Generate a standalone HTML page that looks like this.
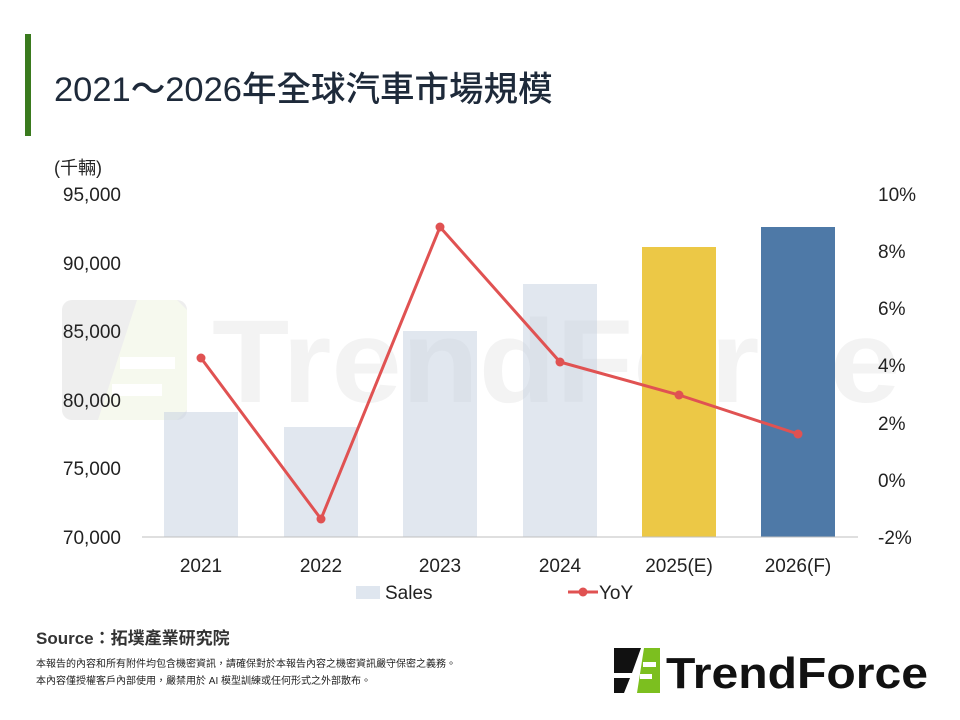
<!DOCTYPE html>
<html><head><meta charset="utf-8"><style>
body{margin:0;background:#fff;}
svg{display:block;font-family:"Liberation Sans","Noto Sans CJK TC",sans-serif;}
</style></head><body>
<svg width="960" height="720" viewBox="0 0 960 720" xmlns="http://www.w3.org/2000/svg">
<rect x="0" y="0" width="960" height="720" fill="#fff"/>
<rect x="25" y="34" width="6" height="102" fill="#3a7a1e"/>
<text x="54" y="101" font-size="34.5" fill="#1e2a3a" font-weight="500">2021～2026年全球汽車市場規模</text>
<!-- watermark -->
<rect x="62" y="300" width="125" height="120" rx="10" fill="#eeeeee"/>
<polygon points="137,300 177,300 187,310 187,410 177,420 98,420" fill="#f6f9ee"/>
<rect x="120" y="357" width="55" height="12" fill="#fff"/>
<rect x="112" y="384" width="50" height="12" fill="#fff"/>
<text x="212" y="402" font-size="118" font-weight="bold" fill="#f3f3f3" textLength="688" lengthAdjust="spacingAndGlyphs">TrendForce</text>
<!-- bars -->
<g fill="#c3cfe0" opacity="0.5">
<rect x="164" y="412" width="74" height="125"/>
<rect x="284" y="427" width="74" height="110"/>
<rect x="403" y="331" width="74" height="206"/>
<rect x="523" y="284" width="74" height="253"/>
</g>
<rect x="642" y="247" width="74" height="290" fill="#ecc846"/>
<rect x="761" y="227" width="74" height="310" fill="#4e79a7"/>
<line x1="142" y1="537" x2="858" y2="537" stroke="#bfbfbf" stroke-width="1"/>
<g font-size="19" fill="#222" text-anchor="end">
<text x="121" y="201">95,000</text>
<text x="121" y="270">90,000</text>
<text x="121" y="338">85,000</text>
<text x="121" y="407">80,000</text>
<text x="121" y="475">75,000</text>
<text x="121" y="544">70,000</text>
</g>
<text x="54" y="174" font-size="18" fill="#222">(千輛)</text>
<g font-size="19" fill="#222" text-anchor="start">
<text x="878" y="201">10%</text>
<text x="878" y="258">8%</text>
<text x="878" y="315">6%</text>
<text x="878" y="372">4%</text>
<text x="878" y="430">2%</text>
<text x="878" y="487">0%</text>
<text x="878" y="544">-2%</text>
</g>
<g font-size="19" fill="#222" text-anchor="middle">
<text x="201" y="572">2021</text>
<text x="321" y="572">2022</text>
<text x="440" y="572">2023</text>
<text x="560" y="572">2024</text>
<text x="679" y="572">2025(E)</text>
<text x="798" y="572">2026(F)</text>
</g>
<polyline points="201,358 321,519 440,227 560,362 679,395 798,434" fill="none" stroke="#e05252" stroke-width="3"/>
<g fill="#e05252">
<circle cx="201" cy="358" r="4.5"/><circle cx="321" cy="519" r="4.5"/><circle cx="440" cy="227" r="4.5"/>
<circle cx="560" cy="362" r="4.5"/><circle cx="679" cy="395" r="4.5"/><circle cx="798" cy="434" r="4.5"/>
</g>
<rect x="356" y="586" width="24" height="13" fill="#dfe6ef"/>
<text x="385" y="599" font-size="19" fill="#222">Sales</text>
<line x1="568" y1="592" x2="598" y2="592" stroke="#e05252" stroke-width="3"/>
<circle cx="583" cy="592" r="4.5" fill="#e05252"/>
<text x="599" y="599" font-size="19" fill="#222">YoY</text>
<text x="36" y="644" font-size="17" fill="#333" font-weight="bold">Source：拓墣產業研究院</text>
<text x="36" y="667" font-size="10" fill="#222">本報告的內容和所有附件均包含機密資訊，請確保對於本報告內容之機密資訊嚴守保密之義務。</text>
<text x="36" y="684" font-size="10" fill="#222">本內容僅授權客戶內部使用，嚴禁用於 AI 模型訓練或任何形式之外部散布。</text>
<polygon points="614,648 641,648 632,673 614,673" fill="#111"/>
<polygon points="614,678 630,678 624,693 614,693" fill="#111"/>
<polygon points="644,648 660,648 660,693 637,693" fill="#7cbf1f"/>
<rect x="643" y="662" width="13" height="5" fill="#fff"/>
<rect x="640" y="674" width="12" height="5" fill="#fff"/>
<text x="666" y="688" font-size="44" font-weight="bold" fill="#111" textLength="262" lengthAdjust="spacingAndGlyphs">TrendForce</text>
</svg>
</body></html>
